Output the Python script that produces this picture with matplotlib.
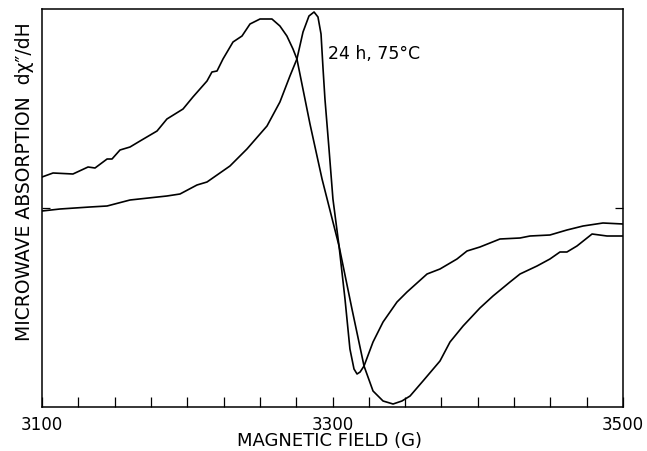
import matplotlib
matplotlib.use("Agg")
import matplotlib.pyplot as plt

# Broad curve (field in G, signal in arbitrary units; 0 = baseline)
broad_field = [3100, 3107.6, 3121.3, 3131.7, 3136.5, 3144.8, 3148.2, 3153.7, 3160.6, 3167.5,
               3179.2, 3186.0, 3197.1, 3203.9, 3213.6, 3217.0, 3220.5, 3224.6, 3231.5, 3237.7,
               3243.2, 3250.1, 3258.3, 3263.8, 3268.6, 3272.8, 3275.5, 3284.5, 3292.8, 3304.5,
               3313.4, 3321.7, 3327.9, 3334.8, 3341.7, 3347.8, 3353.4, 3362.3, 3374.0, 3380.9,
               3389.9, 3401.5, 3410.5, 3422.2, 3429.1, 3440.8, 3449.7, 3456.6, 3461.4, 3468.3,
               3478.7, 3489.0, 3500]
broad_signal = [31, 35, 34, 41, 40, 49, 49, 58, 61, 67,
                77, 89, 99, 111, 127, 136, 137, 149, 166, 172,
                184, 189, 189, 182, 172, 159, 149, 84, 29, -38,
                -101, -158, -183, -193, -196, -193, -188, -173, -153, -134,
                -118, -100, -88, -74, -66, -58, -51, -44, -44, -38,
                -26, -28, -28]

# Narrow curve
narrow_field = [3100, 3112.4, 3133.0, 3144.8, 3160.6, 3186.0, 3195.0, 3206.7, 3213.6, 3229.4,
                3241.1, 3254.9, 3263.8, 3270.7, 3275.5, 3279.7, 3283.8, 3287.3, 3290.0, 3292.1,
                3293.5, 3294.8, 3297.6, 3300.3, 3304.5, 3308.6, 3312.0, 3314.8, 3316.9, 3319.0,
                3321.7, 3327.9, 3334.8, 3344.4, 3351.3, 3365.1, 3374.0, 3385.7, 3392.6, 3401.5,
                3415.3, 3429.1, 3436.0, 3449.7, 3461.4, 3472.5, 3486.2, 3500]
narrow_signal = [-3, -1, 1, 2, 8, 12, 14, 23, 26, 42,
                 59, 82, 106, 132, 149, 176, 192, 196, 191, 174,
                 139, 109, 59, 9, -38, -91, -141, -161, -166, -164,
                 -158, -134, -114, -94, -84, -66, -61, -51, -43, -39,
                 -31, -30, -28, -27, -22, -18, -15, -16]

x_ticks = [3100, 3125, 3150, 3175, 3200, 3225, 3250, 3275, 3300,
           3325, 3350, 3375, 3400, 3425, 3450, 3475, 3500]
x_tick_labels = {3100: "3100", 3300: "3300", 3500: "3500"}

FONT = "DejaVu Sans"

fig = plt.figure(figsize=(6.47, 4.52), dpi=100)
ax = fig.add_axes([42/647, 1 - 408/452, (623-42)/647, (408-10)/452])

ax.plot(broad_field, broad_signal, color="black", lw=1.2)
ax.plot(narrow_field, narrow_signal, color="black", lw=1.2)

ax.set_xlim(3100, 3500)
ax.set_ylim(-199, 199)

ax.set_xticks(x_ticks)
ax.set_xticklabels([x_tick_labels.get(t, "") for t in x_ticks], fontsize=12, family=FONT)
ax.tick_params(axis="x", direction="in", length=7, width=0.9, pad=5.5)
ax.set_yticks([0])
ax.set_yticklabels([""])
ax.tick_params(axis="y", direction="in", length=6, width=0.9, left=True, right=True)

for s in ax.spines.values():
    s.set_linewidth(1.1)

ax.text(3297, 155, "24 h, 75\u00b0C", fontsize=12.5, family=FONT, ha="left", va="center")

fig.text(330/647, 1 - 441/452, "MAGNETIC FIELD (G)", fontsize=13, family=FONT,
         ha="center", va="center")
fig.text(25/647, 1 - 182/452, "MICROWAVE ABSORPTION  d\u03c7\u2033/dH", fontsize=13.5,
         family=FONT, ha="center", va="center", rotation=90)

fig.savefig("out.png", dpi=100)
